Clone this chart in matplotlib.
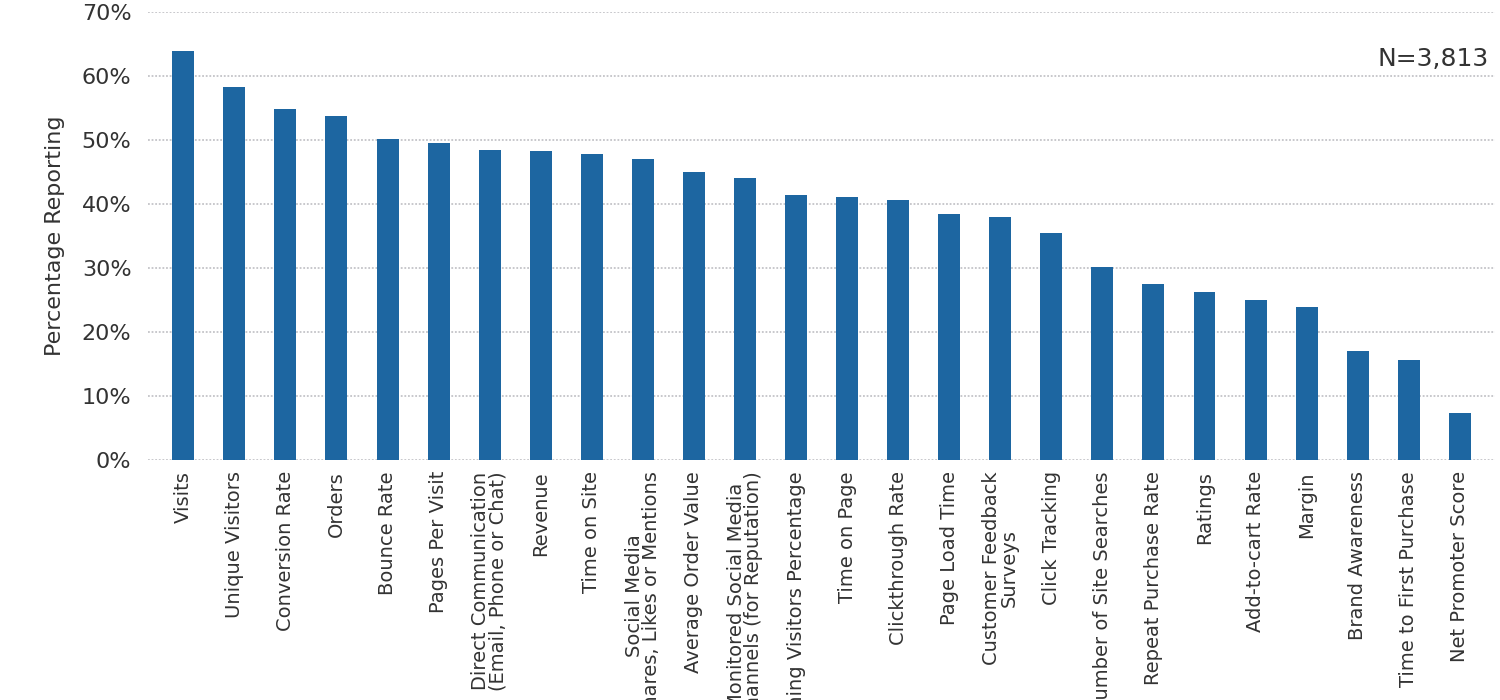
import matplotlib.pyplot as plt
import numpy as np
from matplotlib.ticker import FuncFormatter

# Metrics reported and share of respondents reporting each
metrics = [
    "Visits", "Unique Visitors", "Conversion Rate", "Orders", "Bounce Rate",
    "Pages Per Visit", "Direct Communication\n(Email, Phone or Chat)", "Revenue",
    "Time on Site", "Social Media\nShares, Likes or Mentions", "Average Order Value",
    "Monitored Social Media\nChannels (for Reputation)", "Returning Visitors Percentage",
    "Time on Page", "Clickthrough Rate", "Page Load Time", "Customer Feedback\nSurveys",
    "Click Tracking", "Number of Site Searches", "Repeat Purchase Rate", "Ratings",
    "Add-to-cart Rate", "Margin", "Brand Awareness", "Time to First Purchase",
    "Net Promoter Score",
]
pct = [63.9, 58.3, 54.8, 53.8, 50.2, 49.5, 48.4, 48.3, 47.8, 47.0, 45.0, 44.1,
       41.4, 41.1, 40.6, 38.4, 38.0, 35.5, 30.2, 27.5, 26.3, 25.0, 23.9, 17.0,
       15.6, 7.4]
y_ticks = [0, 10, 20, 30, 40, 50, 60, 70]
n_note = "N=3,813"

plt.rcParams['font.family'] = ['DejaVu Sans']

fig = plt.figure(figsize=(15, 7), dpi=100)
ax = fig.add_axes([0.0987, 0.343, 0.898, 0.640])

x = np.arange(len(metrics))
ax.bar(x, pct, width=0.43, color="#1d66a1", zorder=3)

ax.set_xlim(-0.69, len(metrics) - 0.31)
ax.set_ylim(0, 70)
ax.set_yticks(y_ticks)
ax.yaxis.set_major_formatter(FuncFormatter(lambda v, p: f"{v:.0f}%"))
ax.grid(axis="y", color="#c4c4c8", linestyle=(0, (1, 1)), linewidth=1.3, zorder=0)

ax.set_xticks(x)
ax.set_xticklabels(metrics, rotation=90, fontsize=14, color="#333333",
                   ha="center", va="top", linespacing=0.9)
ax.tick_params(axis="x", length=0, pad=8)
ax.tick_params(axis="y", length=0, pad=12, labelsize=16, labelcolor="#333333")
for s in ax.spines.values():
    s.set_visible(False)

ax.set_ylabel("Percentage Reporting", fontsize=16, color="#333333", labelpad=12)
ax.text(0.995, 60.8, n_note, transform=ax.get_yaxis_transform(), ha="right",
        va="bottom", fontsize=18, color="#333333")

fig.savefig("out.png", dpi=100)
